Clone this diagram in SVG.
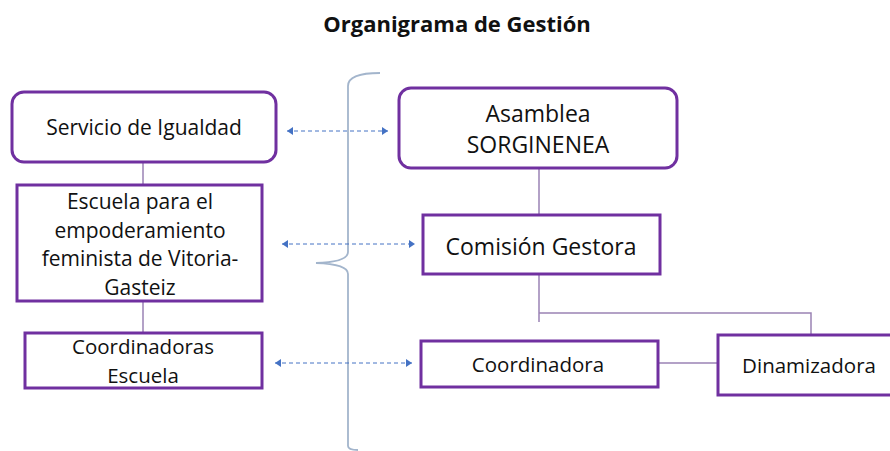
<svg xmlns="http://www.w3.org/2000/svg" width="890" height="451" viewBox="0 0 890 451">
<defs>
<style>
.box{fill:#fff;stroke:#7030A0;stroke-width:3}
.t{font-family:"Open Sans","Noto Sans",sans-serif;fill:#111;text-anchor:middle}
.link{fill:none;stroke:#9A82B4;stroke-width:1.5}
.dash{fill:none;stroke:#4472C4;stroke-width:1;stroke-dasharray:4 3}
.brace{fill:none;stroke:#A3B5CC;stroke-width:1.8}
</style>
<marker id="ah" viewBox="0 0 8 8" refX="7" refY="4" markerWidth="8" markerHeight="8" orient="auto-start-reverse" markerUnits="userSpaceOnUse">
<path d="M1 0 L7 4 L1 8 Z" fill="#4472C4"/>
</marker>
</defs>
<rect width="890" height="451" fill="#fff"/>
<text class="t" x="457" y="32" font-size="22" font-weight="bold">Organigrama de Gestión</text>
<g id="connectors">
<path class="brace" d="M380 73 Q348 73 348 86 L348 252 Q348 262 316 263 Q348 264 348 274 L348 446 Q348 450 358 450"/>
<line class="link" x1="143" y1="162" x2="143" y2="185"/>
<line class="link" x1="143" y1="301" x2="143" y2="333"/>
<line class="link" x1="539" y1="168" x2="539" y2="215"/>
<polyline class="link" points="539,274 539,322"/>
<polyline class="link" points="539,313 811,313 811,335"/>
<line class="link" x1="658" y1="363" x2="718" y2="363"/>
<line class="dash" x1="287" y1="131" x2="388" y2="131" marker-start="url(#ah)" marker-end="url(#ah)"/>
<line class="dash" x1="282" y1="244" x2="415" y2="244" marker-start="url(#ah)" marker-end="url(#ah)"/>
<line class="dash" x1="275" y1="363" x2="412" y2="363" marker-start="url(#ah)" marker-end="url(#ah)"/>
</g>
<g id="servicio">
<rect class="box" x="12" y="92" width="264" height="70" rx="12"/>
<text class="t" x="144" y="135" font-size="21">Servicio de Igualdad</text>
</g>
<g id="escuela">
<rect class="box" x="17" y="185" width="245" height="116"/>
<text class="t" x="140" y="209" font-size="21">Escuela para el</text>
<text class="t" x="140" y="238" font-size="21">empoderamiento</text>
<text class="t" x="140" y="266" font-size="21">feminista de Vitoria-</text>
<text class="t" x="140" y="295" font-size="21">Gasteiz</text>
</g>
<g id="coordinadoras">
<rect class="box" x="25" y="333" width="237" height="55"/>
<text class="t" x="143" y="354" font-size="20.5">Coordinadoras</text>
<text class="t" x="143" y="383" font-size="20.5">Escuela</text>
</g>
<g id="asamblea">
<rect class="box" x="399" y="88" width="278" height="80" rx="12"/>
<text class="t" x="538" y="122" font-size="23">Asamblea</text>
<text class="t" x="538" y="153" font-size="23">SORGINENEA</text>
</g>
<g id="comision">
<rect class="box" x="423" y="215" width="237" height="59"/>
<text class="t" x="541" y="255" font-size="23">Comisión Gestora</text>
</g>
<g id="coordinadora">
<rect class="box" x="421" y="341" width="237" height="46"/>
<text class="t" x="538" y="372" font-size="20.5">Coordinadora</text>
</g>
<g id="dinamizadora">
<rect class="box" x="718" y="335" width="190" height="60"/>
<text class="t" x="809" y="373" font-size="20.5">Dinamizadora</text>
</g>
</svg>
